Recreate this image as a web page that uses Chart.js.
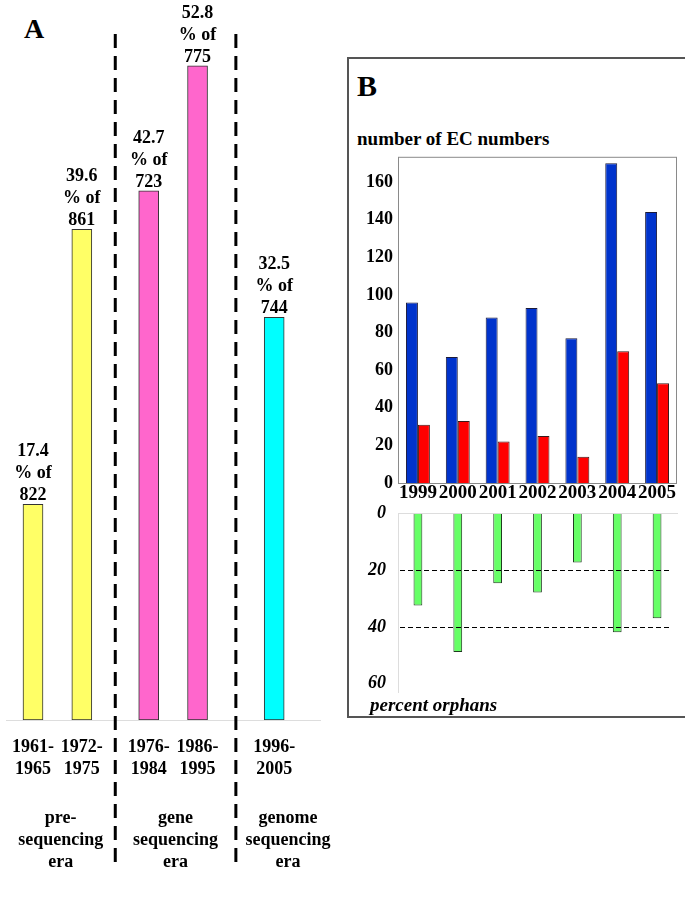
<!DOCTYPE html>
<html lang="en">
<head>
  <meta charset="UTF-8" />
  <title>Orphan EC numbers</title>
  <script src="https://cdn.jsdelivr.net/npm/chart.js"></script>
  <style>
    body {
      margin: 0;
      width: 685px;
      height: 911px;
      overflow: hidden;
      position: relative;
      background: #ffffff;
      font-family: 'Liberation Serif', 'DejaVu Serif', serif;
      font-weight: bold;
      color: #000;
    }
    canvas, .label, .box { position: absolute; }
    .label { line-height: 1; white-space: nowrap; }
    .box {
      left: 347px;
      top: 57px;
      width: 360px;
      height: 657px;
      border: 2px solid #555;
    }
  </style>
</head>
<body>
  <div class="label" style="left:24px; top:15px; font-size:28px;">A</div>

  <div class="box"></div>
  <div class="label" style="left:357px; top:71px; font-size:30px;">B</div>
  <div class="label" style="left:357px; top:129px; font-size:19px;">number of EC numbers</div>

  <canvas id="chartA" width="345" height="911" style="left:-5px; top:0;"></canvas>
  <canvas id="chartEC" width="338" height="369" style="left:347px; top:141px;"></canvas>
  <canvas id="chartOrphans" width="338" height="224" style="left:347px; top:491px;"></canvas>

  <div class="label" style="left:370px; top:695px; font-size:19px; font-style:italic;">percent orphans</div>

  <script>
    // panel A
    const periods = ["1961-\n1965", "1972-\n1975", "1976-\n1984", "1986-\n1995", "1996-\n2005"];
    const percents = [17.4, 39.6, 42.7, 52.8, 32.5];
    const totals = [822, 861, 723, 775, 744];
    const barEra = [0, 0, 1, 1, 2];
    const eraNames = ["pre-\nsequencing\nera", "gene\nsequencing\nera", "genome\nsequencing\nera"];
    const eraColors = ["#ffff66", "#ff66cc", "#00ffff"];

    // panel B
    const years = ["1999", "2000", "2001", "2002", "2003", "2004", "2005"];
    const ecTotal = [96, 67, 88, 93, 77, 170, 144];
    const ecOrphan = [31, 33, 22, 25, 14, 70, 53];
    const orphanPct = [32.4, 48.8, 24.5, 27.8, 17.2, 41.8, 36.9];
    const orphanGuides = [20, 40];

    const FONT = "'Liberation Serif'";
    // extra horizontal room in front of each era (x-axis units)
    const ERA_SHIFT = [0, 0.37, 0.94];
    const xs = barEra.map((e, i) => i + ERA_SHIFT[e]);

    const panelAPlugin = {
      id: 'panelA',
      afterDatasetsDraw(chart) {
        const ctx = chart.ctx;
        const area = chart.chartArea;
        const xScale = chart.scales.x;
        const meta = chart.getDatasetMeta(0);
        ctx.save();
        ctx.fillStyle = '#000';
        ctx.font = 'bold 18px ' + FONT;
        ctx.textAlign = 'center';
        ctx.textBaseline = 'alphabetic';

        // value labels above the bars
        meta.data.forEach((bar, i) => {
          const lines = [percents[i].toFixed(1), '% of', String(totals[i])];
          lines.forEach((t, k) => {
            ctx.fillText(t, bar.x, bar.y - 4 - (lines.length - 1 - k) * 22);
          });
        });

        // dashed separators between eras
        const seps = [];
        for (let e = 1; e < eraNames.length; e++) {
          const last = barEra.lastIndexOf(e - 1);
          const first = barEra.indexOf(e);
          seps.push(xScale.getPixelForValue((xs[last] + xs[first]) / 2));
        }
        ctx.strokeStyle = '#000';
        ctx.lineWidth = 3;
        ctx.setLineDash([14, 8]);
        seps.forEach(x => {
          ctx.beginPath();
          ctx.moveTo(x, 34);
          ctx.lineTo(x, 870);
          ctx.stroke();
        });
        ctx.setLineDash([]);

        // era names
        const bounds = [area.left].concat(seps, [chart.width]);
        eraNames.forEach((name, e) => {
          const cx = (bounds[e] + bounds[e + 1]) / 2;
          name.split('\n').forEach((t, k) => {
            ctx.fillText(t, cx, area.bottom + 103 + k * 22);
          });
        });
        ctx.restore();
      }
    };

    new Chart(document.getElementById('chartA'), {
      type: 'bar',
      data: {
        datasets: [{
          data: xs.map((x, i) => ({ x: x, y: percents[i] })),
          backgroundColor: barEra.map(e => eraColors[e]),
          borderColor: '#333',
          borderWidth: 1,
          borderSkipped: false,
          barThickness: 20
        }]
      },
      options: {
        responsive: false,
        animation: false,
        layout: { padding: { top: 10, left: 0, right: 20, bottom: 0 } },
        plugins: { legend: { display: false }, tooltip: { enabled: false } },
        scales: {
          x: {
            type: 'linear',
            offset: false,
            min: -0.551,
            max: 5.878,
            grid: { display: false, drawTicks: false },
            border: { display: true, color: '#dddddd', width: 1 },
            afterBuildTicks: scale => { scale.ticks = xs.map(v => ({ value: v })); },
            afterFit: scale => { scale.height = 191; },
            ticks: {
              autoSkip: false,
              maxRotation: 0,
              minRotation: 0,
              padding: 17,
              color: '#000',
              font: { family: FONT, size: 18, weight: 'bold', lineHeight: 1.2 },
              callback: (value, index) => periods[index].split('\n')
            }
          },
          y: {
            display: false,
            min: 0,
            max: 57.3
          }
        }
      },
      plugins: [panelAPlugin]
    });

    const plotBox = {
      id: 'plotBox',
      afterDraw(chart) {
        const a = chart.chartArea;
        const ctx = chart.ctx;
        ctx.save();
        ctx.strokeStyle = '#8a8a8a';
        ctx.lineWidth = 1;
        ctx.strokeRect(a.left + 0.5, a.top + 0.5, a.right - a.left - 1, a.bottom - a.top);
        ctx.restore();
      }
    };

    new Chart(document.getElementById('chartEC'), {
      type: 'bar',
      data: {
        labels: years,
        datasets: [
          { data: ecTotal, backgroundColor: '#0033cc', borderColor: '#1a1a3a', borderWidth: 1, borderSkipped: 'bottom' },
          { data: ecOrphan, backgroundColor: '#ff0000', borderColor: '#3a1a1a', borderWidth: 1, borderSkipped: 'bottom' }
        ]
      },
      options: {
        responsive: false,
        animation: false,
        layout: { padding: { top: 0, right: 8, left: 0, bottom: 0 } },
        datasets: { bar: { categoryPercentage: 0.6, barPercentage: 1 } },
        plugins: { legend: { display: false }, tooltip: { enabled: false } },
        scales: {
          x: {
            grid: { display: false, drawTicks: false },
            border: { display: false },
            afterFit: scale => { scale.height = 27; },
            ticks: {
              autoSkip: false,
              maxRotation: 0,
              minRotation: 0,
              padding: 1,
              color: '#000',
              font: { family: FONT, size: 19, weight: 'bold', lineHeight: 1 }
            }
          },
          y: {
            min: 0,
            max: 173.4,
            grid: { display: false, drawTicks: false },
            border: { display: false },
            afterFit: scale => { scale.width = 51; },
            afterBuildTicks: scale => { scale.ticks = scale.ticks.filter(t => t.value % 20 === 0); },
            ticks: {
              autoSkip: false,
              includeBounds: false,
              stepSize: 20,
              padding: 5,
              color: '#000',
              font: { family: FONT, size: 18, weight: 'bold' }
            }
          }
        }
      },
      plugins: [plotBox]
    });

    const guideLines = {
      id: 'guideLines',
      afterDatasetsDraw(chart) {
        const a = chart.chartArea;
        const y = chart.scales.y;
        const ctx = chart.ctx;
        ctx.save();
        ctx.strokeStyle = '#000';
        ctx.lineWidth = 1;
        ctx.setLineDash([5, 3]);
        orphanGuides.forEach(v => {
          const py = Math.round(y.getPixelForValue(v)) + 0.5;
          ctx.beginPath();
          ctx.moveTo(a.left + 2, py);
          ctx.lineTo(a.right - 5, py);
          ctx.stroke();
        });
        ctx.restore();
      }
    };

    new Chart(document.getElementById('chartOrphans'), {
      type: 'bar',
      data: {
        labels: years,
        datasets: [
          { data: orphanPct, backgroundColor: '#66ff66', borderColor: '#1f3a1f', borderWidth: 1, borderSkipped: 'start' }
        ]
      },
      options: {
        responsive: false,
        animation: false,
        layout: { padding: { top: 6, right: 8, left: 0, bottom: 0 } },
        datasets: { bar: { categoryPercentage: 1, barPercentage: 0.22 } },
        plugins: { legend: { display: false }, tooltip: { enabled: false } },
        scales: {
          x: {
            position: 'top',
            grid: { display: false, drawTicks: false },
            border: { display: true, color: '#dddddd', width: 1 },
            ticks: { display: false },
            afterFit: scale => { scale.height = 0; }
          },
          y: {
            reverse: true,
            min: 0,
            max: 63,
            grid: { display: false, drawTicks: false },
            border: { display: true, color: '#dddddd', width: 1 },
            afterFit: scale => { scale.width = 51; },
            afterBuildTicks: scale => { scale.ticks = scale.ticks.filter(t => t.value % 20 === 0); },
            ticks: {
              autoSkip: false,
              includeBounds: false,
              stepSize: 20,
              padding: 12,
              color: '#000',
              font: { family: FONT, size: 18, weight: 'bold', style: 'italic' }
            }
          }
        }
      },
      plugins: [guideLines]
    });
  </script>
</body>
</html>
